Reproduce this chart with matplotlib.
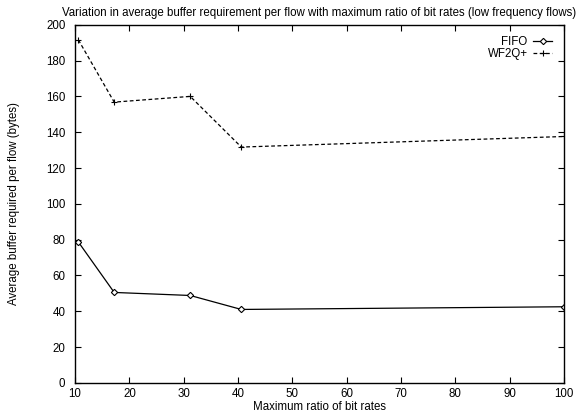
import matplotlib
matplotlib.use("Agg")
import matplotlib.pyplot as plt

# data
ratio = [10.6, 17.2, 31.2, 40.6, 100]
fifo = [78.7, 50.5, 48.8, 41.0, 42.5]
wf2q = [191.6, 156.8, 160.0, 131.7, 137.6]

plt.rcParams["font.family"] = ["Liberation Sans", "DejaVu Sans"]
plt.rcParams["font.size"] = 8.3

fig = plt.figure(figsize=(5.82, 4.13), dpi=100)
ax = fig.add_axes([0.129, 0.073, 0.840, 0.867])

ax.plot(ratio, fifo, color="black", lw=0.9, marker="D", ms=3.2,
        mfc="white", mec="black", mew=0.8, label="FIFO")
ax.plot(ratio, wf2q, color="black", lw=0.9, ls=(0, (3, 2)), marker="+",
        ms=5, mew=0.8, label="WF2Q+")

ax.set_xlim(10, 100)
ax.set_ylim(0, 200)
ax.set_xticks(range(10, 101, 10))
ax.set_yticks(range(0, 201, 20))
ax.tick_params(direction="in", top=True, right=True, length=4, width=0.8)
ax.tick_params(axis="x", pad=4)
ax.tick_params(axis="y", pad=7)
for s in ax.spines.values():
    s.set_linewidth(1.0)

ax.set_title("Variation in average buffer requirement per flow with maximum ratio of bit rates (low frequency flows)",
             fontsize=8.3, pad=6)
ax.set_xlabel("Maximum ratio of bit rates")
ax.set_ylabel("Average buffer required per flow (bytes)")
ax.xaxis.set_label_coords(0.5, -0.051)
ax.yaxis.set_label_coords(-0.112, 0.5)

ax.legend(loc="upper right", frameon=False, markerfirst=False,
          handlelength=1.7, handletextpad=0.45, labelspacing=0.0,
          borderaxespad=0.6)

fig.savefig("out.png", dpi=100)
